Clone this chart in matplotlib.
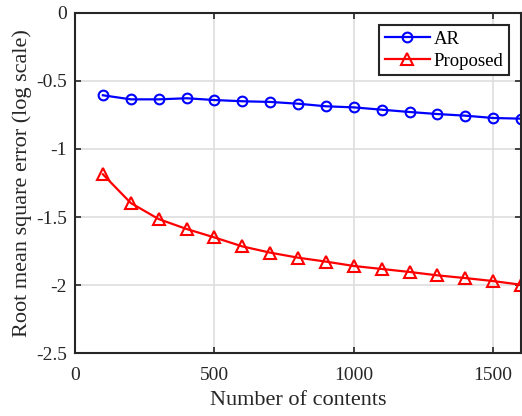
import matplotlib
matplotlib.use("Agg")
import matplotlib.pyplot as plt

plt.rcParams['font.family'] = ['Liberation Serif', 'DejaVu Serif']

contents = [100, 200, 300, 400, 500, 600, 700, 800, 900, 1000,
            1100, 1200, 1300, 1400, 1500, 1600]
rmse_ar = [-0.605, -0.635, -0.635, -0.627, -0.640, -0.649, -0.654, -0.667,
           -0.686, -0.694, -0.711, -0.728, -0.743, -0.755, -0.772, -0.777]
rmse_proposed = [-1.186, -1.397, -1.515, -1.588, -1.650, -1.716, -1.762, -1.799,
                 -1.828, -1.860, -1.882, -1.904, -1.929, -1.949, -1.971, -1.998]

fig = plt.figure(figsize=(5.22, 4.16), dpi=100)
ax = fig.add_axes([0.1437, 0.1514, 0.8544, 0.8174])

ax.plot(contents, rmse_ar, color='blue', marker='o', markersize=7,
        markerfacecolor='none', markeredgewidth=1.5, linewidth=1.6, label='AR')
ax.plot(contents, rmse_proposed, color='red', marker='^', markersize=8,
        markerfacecolor='none', markeredgewidth=1.5, linewidth=1.6, label='Proposed')

ax.set_xlim(0, 1600)
ax.set_ylim(-2.5, 0)
ax.set_xticks([0, 500, 1000, 1500])
ax.set_yticks([-2.5, -2, -1.5, -1, -0.5, 0])
ax.set_yticklabels(['-2.5', '-2', '-1.5', '-1', '-0.5', '0'])
ax.grid(True, color='#dedede', linewidth=1.2)
ax.set_axisbelow(True)
ax.tick_params(direction='in', top=True, right=True, labelsize=14, length=4,
               width=1.2, colors='#262626')
ax.tick_params(axis='x', pad=10)
ax.tick_params(axis='y', pad=6)
for s in ax.spines.values():
    s.set_linewidth(1.5)
    s.set_color('#262626')

ax.set_xlabel('Number of contents', fontsize=16, color='#262626', labelpad=5)
ax.set_ylabel('Root mean square error (log scale)', fontsize=16, color='#262626', labelpad=3)

leg = ax.legend(loc='upper right', fontsize=13.5, fancybox=False, framealpha=1,
                edgecolor='#262626', borderpad=0.3, labelspacing=0.25,
                handlelength=2.4, handletextpad=0.2, borderaxespad=0.65)
leg.get_frame().set_linewidth(1.5)

fig.savefig('out.png', dpi=100)
